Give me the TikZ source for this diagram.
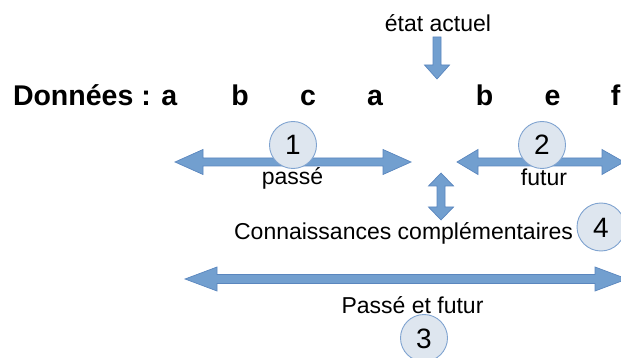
\documentclass[tikz,border=0pt]{standalone}
\usepackage{fontspec}
\setmainfont{Liberation Sans}
\definecolor{arrfill}{HTML}{729FCF}
\definecolor{arrline}{HTML}{5A86BE}
\definecolor{circfill}{HTML}{DEE6EF}
\definecolor{circline}{HTML}{7FA3D0}
\begin{document}
\begin{tikzpicture}[x=1pt,y=-1pt,
  txt/.style={inner sep=0pt,outer sep=0pt,anchor=base,font=\fontsize{23}{27}\selectfont},
  big/.style={inner sep=0pt,outer sep=0pt,anchor=base,font=\fontsize{28.5}{32}\selectfont\bfseries},
  blockarrow/.style={fill=arrfill,draw=arrline,line width=0.7pt,line join=miter},
  numcirc/.style={circle,fill=circfill,draw=circline,line width=0.9pt,minimum size=47pt,inner sep=0pt},
  digit/.style={inner sep=0pt,anchor=base,font=\fontsize{28}{32}\selectfont}]
\useasboundingbox (0,0) rectangle (621,358);
\clip (0,0) rectangle (621,358);
% top label and down arrow
\node[txt] (etat) at (438,32) {état actuel};
\draw[blockarrow] (433,37) -- (441,37) -- (441,65) -- (449.5,65) -- (437,79) -- (424.5,65) -- (433,65) -- cycle;
% data row
\node[big,anchor=base west] (donnees) at (13,106) {Données : a};
\node[big] (d2) at (240,106) {b};
\node[big] (d3) at (308,106) {c};
\node[big] (d4) at (375,106) {a};
\node[big] (d5) at (484.5,106) {b};
\node[big] (d6) at (552.5,106) {e};
\node[big] (d7) at (615.5,106) {f};
% arrow 1 (passe)
\draw[blockarrow] (175,162) -- (203,149.5) -- (203,158) -- (383,158) -- (383,149.5) -- (411,162) -- (383,174.5) -- (383,166) -- (203,166) -- (203,174.5) -- cycle;
\node[numcirc] (c1) at (293,145) {};
\node[digit] (n1) at ([yshift=-10pt]c1.center) {1};
\node[txt] (passe) at (292.5,185) {passé};
% arrow 2 (futur)
\draw[blockarrow] (457,162) -- (478,149.5) -- (478,158) -- (602,158) -- (602,149.5) -- (624,162) -- (602,174.5) -- (602,166) -- (478,166) -- (478,174.5) -- cycle;
\node[numcirc] (c2) at (542,145) {};
\node[digit] (n2) at ([yshift=-10pt]c2.center) {2};
\node[txt] (futur) at (544,186) {futur};
% vertical double arrow
\draw[blockarrow] (441,173) -- (453.5,186) -- (445,186) -- (445,207) -- (453.5,207) -- (441,220) -- (428.5,207) -- (437,207) -- (437,186) -- (428.5,186) -- cycle;
\node[txt] (conn) at (403.5,240) {Connaissances complémentaires};
\node[numcirc,minimum size=48pt] (c4) at (601,227) {};
\node[digit] (n4) at ([yshift=-10pt]c4.center) {4};
% arrow 3 (passe et futur)
\draw[blockarrow] (185,279) -- (217,267) -- (217,274.5) -- (595,274.5) -- (595,267) -- (627,279) -- (595,291) -- (595,283.5) -- (217,283.5) -- (217,291) -- cycle;
\node[numcirc] (c3) at (424,338) {};
\node[digit] (n3) at ([yshift=-10pt]c3.center) {3};
\node[txt] (pf) at (412.5,313) {Passé et futur};
\end{tikzpicture}
\end{document}
